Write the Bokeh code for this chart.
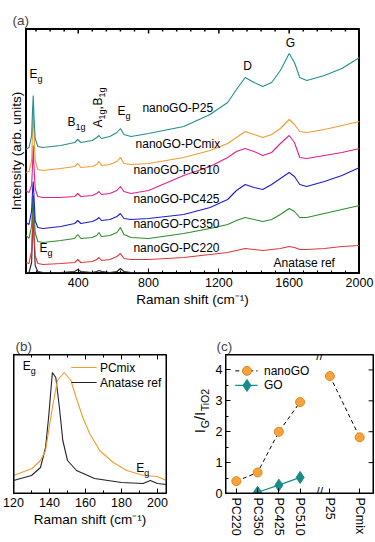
import math
from bokeh.plotting import figure
from bokeh.models import Range1d, Label, FixedTicker, SingleIntervalTicker
from bokeh.layouts import column, row
from bokeh.embed import file_html
from bokeh.resources import INLINE

FONT = "Liberation Sans"

# ---------------- data: panel (a) spectra (arb. units, offset stacked) ----------------
raman_x = [100, 120, 135, 140, 144, 148, 155, 170, 200, 300, 380, 397, 415, 480, 505, 518, 532,
           580, 620, 640, 660, 700, 800, 1000, 1150, 1250, 1300, 1350, 1400, 1450, 1500, 1550,
           1600, 1630, 1660, 1700, 1800, 1900, 2000]
spec_p25 = [124, 126, 138, 163, 178, 158, 135, 127, 126, 128, 131, 134, 131, 133, 136, 138, 135,
            137, 141, 145, 139, 137, 140, 147, 159, 171, 184, 196, 191, 187, 191, 203,
            220, 211, 196, 193, 198, 205, 216]
spec_pcmix = [101, 102, 113, 143, 163, 143, 113, 104, 103, 105, 107, 110, 106, 107, 109, 112, 108,
              109, 112, 116, 110, 109, 110, 116, 123, 130, 136, 142, 139, 136, 139, 145,
              154, 149, 142, 141, 144, 148, 152]
spec_pc510 = [83, 81, 88, 108, 128, 108, 85, 77, 76, 76, 77, 80, 77, 78, 80, 82, 79,
              80, 83, 87, 82, 80, 83, 98, 107, 116, 122, 125, 122, 118, 121, 130,
              138, 131, 116, 115, 118, 121, 125]
spec_pc425 = [51, 49, 63, 83, 92, 78, 53, 46, 45, 47, 50, 53, 50, 52, 54, 56, 53,
              54, 57, 60, 55, 54, 55, 59, 66, 74, 83, 89, 86, 84, 89, 95,
              101, 97, 89, 87, 92, 98, 106]
spec_pc350 = [39, 35, 48, 68, 75, 63, 41, 32, 31, 33, 35, 39, 35, 36, 38, 41, 37,
              38, 41, 46, 39, 36, 35, 40, 45, 49, 53, 56, 54, 52, 54, 59,
              65, 62, 56, 56, 60, 64, 68]
spec_pc220 = [11, 10, 23, 48, 63, 43, 18, 10, 9, 10, 11, 14, 11, 12, 14, 16, 13,
              14, 17, 20, 15, 14, 14, 16, 19, 21, 23, 25, 24, 23, 24, 25,
              27, 26, 24, 24, 25, 27, 28]
anatase_x = [100, 120, 135, 140, 144, 148, 155, 170, 200, 300, 380, 397, 415, 480, 505, 518, 532,
             580, 620, 640, 660, 700, 800]
spec_anatase = [1, 1, 11, 43, 78, 38, 8, 2, 1, 1, 2, 4, 2, 1, 2, 3, 2,
                1, 2, 5, 2, 1, 1]
spec_names = ["nanoGO-P25", "nanoGO-PCmix", "nanoGO-PC510", "nanoGO-PC425",
              "nanoGO-PC350", "nanoGO-PC220", "Anatase ref"]

# ---------------- data: panel (b) Eg band ----------------
b_pcmix_x = [120, 130.3, 135, 137.8, 141.6, 144.4, 148.2, 151.9, 154.8, 158.5, 162.3, 167.9,
             175.4, 182.9, 192.3, 199.8, 205]
b_pcmix_y = [18, 25, 33, 43, 86, 113, 121, 113, 96, 76, 60, 43, 31, 23, 18, 17, 13]
b_anat_x = [120, 130, 135, 137.8, 139.5, 141.6, 143.5, 145.5, 147.4, 150, 155, 165, 180, 192,
            196, 200, 205]
b_anat_y = [13, 18, 26, 46, 76, 121, 116, 86, 53, 33, 23, 15, 11, 10, 13, 10, 9]

# ---------------- data: panel (c) IG/ITiO2 ----------------
c_categories = ["PC220", "PC350", "PC425", "PC510", "P25", "PCmix"]
c_nanogo = [0.40, 0.68, 2.00, 2.96, 3.80, 1.82]
c_go_categories = ["PC350", "PC425", "PC510"]
c_go = [0.04, 0.27, 0.52]

# ---------------- styling ----------------
colors = ["#1f8f8f", "#f29b30", "#e0208c", "#1c1ccc", "#2b8f2b", "#e0383a", "#222222"]


def style_frame(p, lw=2):
    p.outline_line_color = "black"
    p.xgrid.visible = False
    p.ygrid.visible = False
    p.background_fill_color = "white"
    p.border_fill_color = "white"
    xr, yr = p.x_range, p.y_range
    # frame box drawn through the scales (clipped to the frame)
    p.quad(left=[xr.start], right=[xr.end], bottom=[yr.start], top=[yr.end],
           fill_alpha=0, line_color="black", line_width=lw)


def mirror_ticks_top(p, major, minor, lw=1):
    """inward tick marks on the top frame edge (1 data unit == 1 px vertically here)"""
    top = p.y_range.end
    p.segment(x0=major, x1=major, y0=[top] * len(major), y1=[top - 5] * len(major),
              line_color="black", line_width=lw)
    p.segment(x0=minor, x1=minor, y0=[top] * len(minor), y1=[top - 3] * len(minor),
              line_color="black", line_width=lw)


def style_axis(ax, size="12.5px"):
    ax.axis_line_color = "black"
    ax.major_tick_line_color = "black"
    ax.minor_tick_line_color = "black"
    ax.major_tick_in = 5
    ax.major_tick_out = 0
    ax.minor_tick_in = 3
    ax.minor_tick_out = 0
    ax.major_label_text_font = FONT
    ax.major_label_text_color = "black"
    ax.major_label_text_font_size = size
    ax.major_label_standoff = 4
    ax.axis_label_text_font = FONT
    ax.axis_label_text_font_style = "normal"
    ax.axis_label_text_color = "black"


def set_title(p, text, offset):
    p.title.text = text
    p.title.align = "left"
    p.title.offset = offset
    p.title.text_font = FONT
    p.title.text_font_size = "13.5px"
    p.title.text_font_style = "normal"
    p.title.standoff = 2


def lab(p, x, y, text, size=12, align="left", baseline="middle", angle=0.0,
        xo=0, yo=0, color="black"):
    p.add_layout(Label(x=x, y=y, text=text, text_font=FONT, text_font_size=f"{size}px",
                       text_align=align, text_baseline=baseline, angle=angle,
                       x_offset=xo, y_offset=yo, text_color=color))


def sub_label(p, x, y, main, sub, size=12, ssize=9, dx=8):
    lab(p, x, y, main, size=size)
    lab(p, x, y, sub, size=ssize, xo=dx, yo=-5)


# ================= panel (a) =================
pa = figure(width=375, height=325, x_range=Range1d(100, 2000), y_range=Range1d(0, 245),
            output_backend="svg", toolbar_location=None,
            min_border_left=25, min_border_right=16, min_border_top=28, min_border_bottom=52)
set_title(pa, "(a)", -13)
style_frame(pa, lw=3)
a_major = list(range(400, 2001, 400))
a_minor = [v for v in range(160, 2001, 80) if v % 400]
mirror_ticks_top(pa, a_major, a_minor, lw=1.5)
pa.line(anatase_x, spec_anatase, line_color=colors[6], line_width=1.1)
for ys, c in zip([spec_pc220, spec_pc350, spec_pc425, spec_pc510, spec_pcmix, spec_p25],
                 colors[5::-1]):
    pa.line(raman_x, ys, line_color=c, line_width=1.1)

pa.xaxis.ticker = SingleIntervalTicker(interval=400, num_minor_ticks=5)
style_axis(pa.xaxis[0])
pa.xaxis.axis_label = "Raman shift (cm\u207b\u00b9)"
pa.xaxis.axis_label_text_font_size = "13.5px"
pa.xaxis.axis_label_standoff = 2
pa.yaxis.ticker = FixedTicker(ticks=[])
style_axis(pa.yaxis[0])
pa.yaxis.axis_label = "Intensity (arb. units)"
pa.yaxis.axis_label_text_font_size = "13.5px"
pa.yaxis.axis_label_standoff = 2

sub_label(pa, 123, 200, "E", "g")
sub_label(pa, 339, 152, "B", "1g", dx=8)
# rotated A1g,B1g
lab(pa, 510, 146, "A", angle=math.pi / 2)
lab(pa, 510, 146, "1g", size=9, angle=math.pi / 2, yo=8, xo=4)
lab(pa, 510, 146, ",", angle=math.pi / 2, yo=18)
lab(pa, 510, 146, "B", angle=math.pi / 2, yo=22)
lab(pa, 510, 146, "1g", size=9, angle=math.pi / 2, yo=30, xo=4)
sub_label(pa, 623, 163, "E", "g")
sub_label(pa, 180, 26, "E", "g")
lab(pa, 1363, 208, "D", align="center")
lab(pa, 1607, 231, "G", align="center")
spec_label_pos = [(765, 166), (726, 130), (714, 104), (714, 75), (714, 50), (714, 26), (1511, 11)]
for name, (lx, ly) in zip(spec_names, spec_label_pos):
    lab(pa, lx, ly, name)

# ================= panel (b) =================
pb = figure(width=190, height=217, x_range=Range1d(120, 205), y_range=Range1d(0, 139),
            output_backend="svg", toolbar_location=None,
            min_border_left=13, min_border_right=24, min_border_top=29, min_border_bottom=49)
set_title(pb, "(b)", 2)
pb.line(b_anat_x, b_anat_y, line_color="#222222", line_width=1.1)
pb.line(b_pcmix_x, b_pcmix_y, line_color=colors[1], line_width=1.1)
style_frame(pb)
mirror_ticks_top(pb, list(range(120, 206, 20)), list(range(130, 206, 20)))
pb.xaxis.ticker = SingleIntervalTicker(interval=20, num_minor_ticks=2)
style_axis(pb.xaxis[0])
pb.xaxis.axis_label = "Raman shift (cm\u207b\u00b9)"
pb.xaxis.axis_label_text_font_size = "13.5px"
pb.xaxis.axis_label_standoff = 2
pb.yaxis.ticker = FixedTicker(ticks=[])
style_axis(pb.yaxis[0])

sub_label(pb, 125.1, 128, "E", "g")
sub_label(pb, 188.2, 26, "E", "g")
pb.line([152.1, 166.2], [126, 126], line_color=colors[1], line_width=1.1)
pb.line([152.1, 166.2], [111, 111], line_color="#222222", line_width=1.1)
lab(pb, 168, 126, "PCmix")
lab(pb, 168, 111, "Anatase ref")

# ================= panel (c): y-label strip =================
pcl = figure(width=22, height=217, x_range=Range1d(0, 22), y_range=Range1d(0, 217),
             output_backend="svg", toolbar_location=None, min_border=0,
             x_axis_type=None, y_axis_type=None)
pcl.outline_line_color = None
pcl.xgrid.visible = False
pcl.ygrid.visible = False
ylx, yly = 9, 94
lab(pcl, ylx, yly, "I", size=15, angle=math.pi / 2)
lab(pcl, ylx, yly, "G", size=10.5, angle=math.pi / 2, yo=5, xo=5)
lab(pcl, ylx, yly, "/I", size=15, angle=math.pi / 2, yo=13)
lab(pcl, ylx, yly, "TiO2", size=10.5, angle=math.pi / 2, yo=22, xo=5)

# ================= panel (c) =================
cat_pos = {"PC220": 1, "PC350": 2, "PC425": 3, "PC510": 4, "P25": 5.4, "PCmix": 6.8}
pc = figure(width=163, height=217, x_range=Range1d(0.49, 7.45), y_range=Range1d(0, 4.5),
            output_backend="svg", toolbar_location=None,
            min_border_left=10, min_border_right=2, min_border_top=29, min_border_bottom=49)
set_title(pc, "(c)", -9)
nx = [cat_pos[c] for c in c_categories]
gx = [cat_pos[c] for c in c_go_categories]
pc.line(nx[:4], c_nanogo[:4], line_color="black", line_dash="4 3", line_width=1)
pc.line(nx[4:], c_nanogo[4:], line_color="black", line_dash="4 3", line_width=1)
pc.line(gx, c_go, line_color="#1a8a8a", line_width=1.2)
pc.scatter(nx, c_nanogo, marker="circle", size=9, fill_color="#f7a23a",
           line_color="#e2891c", line_width=1)
pc.scatter(gx, c_go, marker="diamond", size=12, fill_color="#1a8a8a", line_color="#1a8a8a")
style_frame(pc)
c_yt = [1, 2, 3, 4]
c_xr = pc.x_range
pc.segment(x0=[c_xr.end] * len(c_yt), x1=[c_xr.end - 0.23] * len(c_yt), y0=c_yt, y1=c_yt,
           line_color="black", line_width=1)

pc.xaxis.ticker = FixedTicker(ticks=nx)
pc.xaxis.major_label_overrides = {cat_pos[c]: c for c in c_categories}
style_axis(pc.xaxis[0])
pc.xaxis.major_label_orientation = "vertical"
pc.xaxis.minor_tick_line_color = None
pc.yaxis.ticker = SingleIntervalTicker(interval=1, num_minor_ticks=2)
style_axis(pc.yaxis[0])
pc.yaxis.major_label_standoff = 3

# legend (c)
pc.line([0.95, 2.0], [3.97, 3.97], line_color="black", line_dash="4 3", line_width=1)
pc.scatter([1.5], [3.97], marker="circle", size=9, fill_color="#f7a23a",
           line_color="#e2891c")
pc.line([0.95, 2.0], [3.5, 3.5], line_color="#1a8a8a", line_width=1.2)
pc.scatter([1.5], [3.5], marker="diamond", size=12, fill_color="#1a8a8a", line_color="#1a8a8a")
lab(pc, 2.3, 3.97, "nanoGO")
lab(pc, 2.3, 3.5, "GO")

# axis break marks
lab(pc, 4.92, 4.45, "//", size=12, align="center")
lab(pc, 4.92, 0.05, "//", size=12, align="center")

layout = column(pa, row(pb, pcl, pc))
open("out.html", "w").write(file_html(layout, INLINE))
